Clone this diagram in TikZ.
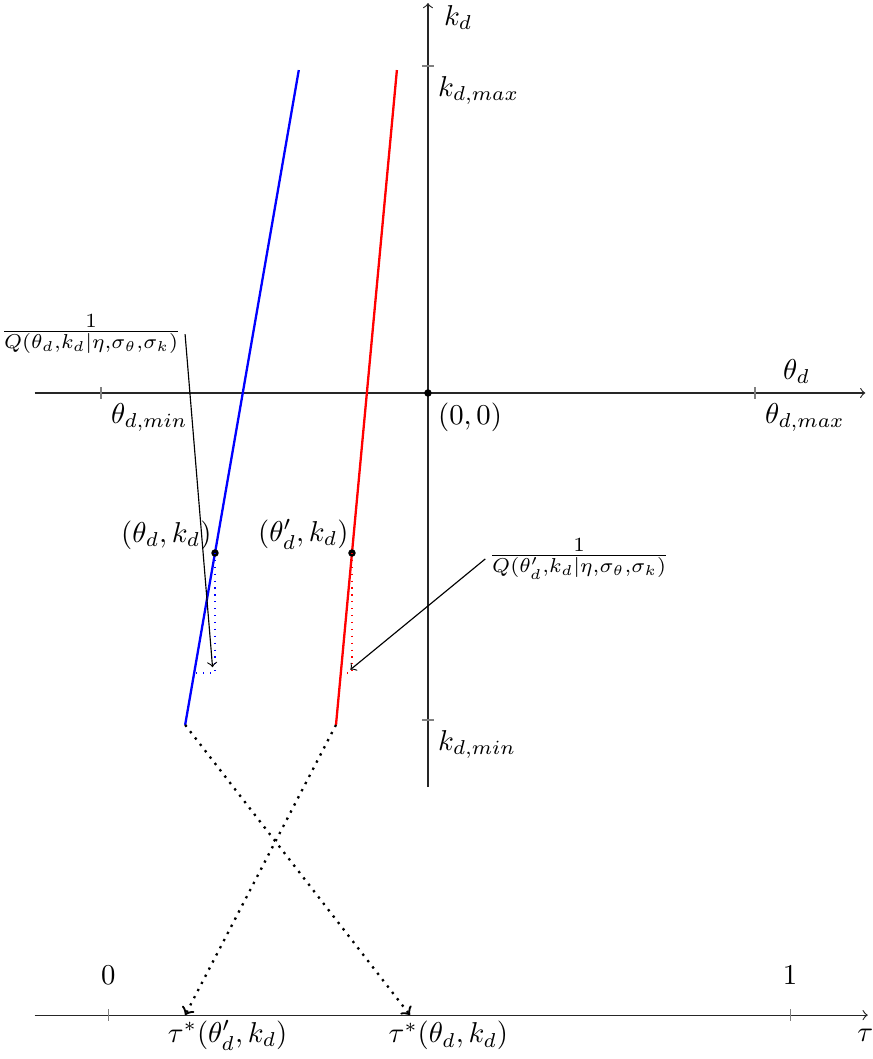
\documentclass[tikz,border=0pt]{standalone}
\usepackage{amsmath,amssymb}
\usepackage{tikz}
\usetikzlibrary{arrows.meta,positioning,calc}
\tikzset{
  axisline/.style={->, line width=0.4pt, black!85},
  tickmark/.style={black!50, line width=0.4pt},
  bline/.style={blue, thick},
  rline/.style={red, thick},
  bproj/.style={blue, dotted, line width=0.4pt},
  rproj/.style={red, dotted, line width=0.4pt},
  mapto/.style={->, dotted, thick},
  qarr/.style={->, line width=0.4pt},
  ptdot/.style={circle, fill=black, inner sep=0pt, minimum size=2.6pt},
  qlab/.style={inner sep=1pt},
}

\begin{document}
\begin{tikzpicture}[>=to]
  \useasboundingbox (-5.235,-8.147) rectangle (5.443,4.807);
  % axes
  \coordinate (thL) at (-4.81,0);
  \coordinate (thR) at (5.35,0);
  \coordinate (kB) at (0,-4.82);
  \coordinate (kT) at (0,4.77);
  \draw[axisline] (thL) -- (thR);
  \draw[axisline] (kB) -- (kT);
  \node (thlab) at (4.51,0.26) {$\theta_d$};
  \node (klab) at (0.37,4.59) {$k_d$};
  \node[ptdot] (O) at (0,0) {};
  \node[below right] (olab) at (O) {$(0,0)$};
  % ticks
  \draw[tickmark] (-4,-2pt) -- (-4,2pt);
  \draw[tickmark] (4,-2pt) -- (4,2pt);
  \draw[tickmark] (-2pt,4) -- (2pt,4);
  \draw[tickmark] (-2pt,-4) -- (2pt,-4);
  \node[below right] (thmin) at (-4,0) {$\theta_{d,min}$};
  \node[below right] (thmax) at (4,0) {$\theta_{d,max}$};
  \node[below right] (kmax) at (0,4) {$k_{d,max}$};
  \node[below right] (kmin) at (0,-4) {$k_{d,min}$};

  % the two lines
  \coordinate (bb) at (-2.97,-4.06);
  \coordinate (bt) at (-1.58,3.95);
  \coordinate (rb) at (-1.125,-4.06);
  \coordinate (rt) at (-0.38,3.95);
  \draw[bline] (bb) -- (bt);
  \draw[rline] (rb) -- (rt);

  % points and projections
  \node[ptdot] (bp) at ($(bb)!0.2625!(bt)$) {};
  \node[ptdot] (rp) at ($(rb)!0.2625!(rt)$) {};
  \coordinate (bc) at ($(bb)!0.0793!(bt)$);
  \coordinate (rc) at ($(rb)!0.0793!(rt)$);
  \draw[bproj] (bp.center) -- (bp.center |- bc) coordinate (bv) -- (bc);
  \draw[rproj] (rp.center) -- (rp.center |- rc) coordinate (rv) -- (rc);
  \node[above left, inner sep=1pt] (bplab) at (bp) {$(\theta_d,k_d)$};
  \node[above left, inner sep=1pt] (rplab) at (rp) {$(\theta'_d,k_d)$};

  % 1/Q labels
  \node[qlab] (qleft) at (-4.12,0.72) {$\frac{1}{Q(\theta_d,k_d|\eta,\sigma_\theta,\sigma_k)}$};
  \node[qlab] (qright) at (1.85,-2.03) {$\frac{1}{Q(\theta'_d,k_d|\eta,\sigma_\theta,\sigma_k)}$};
  \coordinate (btip) at ($(bv)+(-0.03,0.07)$);
  \coordinate (rtip) at ($(rv)+(-0.02,0.04)$);
  \draw[qarr] (qleft.east) -- (btip);
  \draw[qarr] (qright.west) -- (rtip);

  % tau axis
  \coordinate (tauL) at (-4.81,-7.61);
  \coordinate (tauR) at (5.38,-7.61);
  \draw[axisline] (tauL) -- (tauR);
  \draw[tickmark] (-3.91,-7.61) ++(0,-2pt) -- ++(0,4pt);
  \draw[tickmark] (4.43,-7.61) ++(0,-2pt) -- ++(0,4pt);
  \node (zero) at (-3.91,-7.12) {$0$};
  \node (one) at (4.43,-7.12) {$1$};
  \node (taulab) at (5.35,-7.86) {$\tau$};

  % mapping to tau
  \coordinate (tb) at (-0.22,-7.61);
  \coordinate (tr) at (-2.97,-7.61);
  \draw[mapto] (bb) -- (tb);
  \draw[mapto] (rb) -- (tr);
  \node (trlab) at (-2.45,-7.86) {$\tau^*(\theta'_d,k_d)$};
  \node (tblab) at (0.25,-7.86) {$\tau^*(\theta_d,k_d)$};
\end{tikzpicture}
\end{document}
